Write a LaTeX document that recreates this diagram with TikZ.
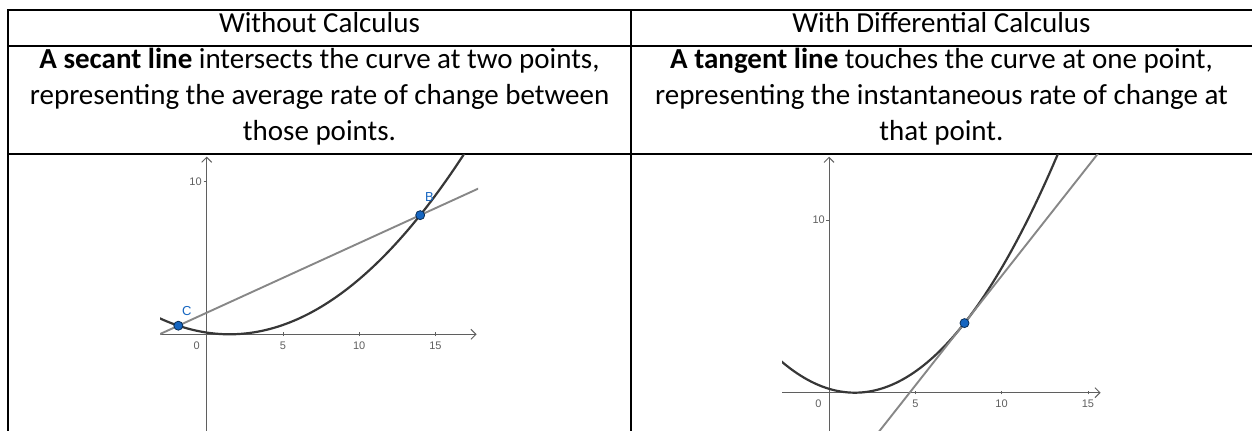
\documentclass[tikz,border=0pt]{standalone}
\usepackage{fontspec}
\setmainfont{Carlito}
\newfontfamily\ggbfont{Liberation Sans}
\usepackage{tikz}
\usetikzlibrary{arrows.meta,calc}
\usepackage{xcolor}
\definecolor{ggbblue}{RGB}{21,101,192}
\definecolor{ggbaxis}{RGB}{95,95,95}
\definecolor{ggbcurve}{RGB}{55,55,55}
\definecolor{ggbline}{RGB}{135,135,135}
\tikzset{
    cell/.style={font=\fontsize{14.5pt}{18pt}\selectfont, anchor=base, inner sep=0pt},
    tableline/.style={line width=1pt, black},
    axis/.style={line width=0.5pt, ggbaxis, -{Straight Barb[length=2.5pt,width=5pt]}},
    tick/.style={line width=0.4pt, ggbaxis},
    ticklabel/.style={font=\ggbfont\fontsize{5.5pt}{6pt}\selectfont, text=ggbaxis, inner sep=0pt},
    curve/.style={line width=1.1pt, ggbcurve},
    secant/.style={line width=0.95pt, ggbline},
    ggbpoint/.style={circle, fill=ggbblue, draw=ggbblue!45!black, line width=0.4pt, minimum size=4.5pt, inner sep=0pt},
    ptlabel/.style={font=\ggbfont\fontsize{6.5pt}{7pt}\selectfont, text=ggbblue, inner sep=0pt},
}

\begin{document}
\begin{tikzpicture}[x=0.5pt,y=-0.5pt]
    \useasboundingbox (0,0) rectangle (1252,431);

    % Table rules
    \draw[tableline] (8,431) -- (8,10) -- (1252,10);
    \draw[tableline] (8,46) -- (1252,46);
    \draw[tableline] (8,154) -- (1252,154);
    \draw[tableline] (631,10) -- (631,431);

    % Headers
    \node[cell] (headL) at (319.5,33) {Without Calculus};
    \node[cell] (headR) at (941.5,33) {With Differential Calculus};

    % Descriptions
    \node[cell] (descL1) at (319.5,69) {\textbf{A secant line} intersects the curve at two points,};
    \node[cell] (descL2) at (319.5,105) {representing the average rate of change between};
    \node[cell] (descL3) at (319.5,141) {those points.};
    \node[cell] (descR1) at (941.5,69) {\textbf{A tangent line} touches the curve at one point,};
    \node[cell] (descR2) at (941.5,105) {representing the instantaneous rate of change at};
    \node[cell] (descR3) at (941.5,141) {that point.};

    % Secant graph
    \begin{scope}
        \clip (160,155) rectangle (478,431);
        \begin{scope}[shift={(206.7,334.3)}, x=7.625pt, y=7.625pt]
            \draw[axis] (-3.2,0) -- (17.7,0);
            \draw[axis] (0,-6.5) -- (0,11.65);
            \foreach \t in {5,10,15} {
                \draw[tick] (\t,-0.12) -- (\t,0.12);
                \node[ticklabel] at (\t,-0.75) {\t};
            }
            \draw[tick] (-0.2,10) -- (0,10);
            \node[ticklabel, anchor=east] at (-0.3,10) {10};
            \node[ticklabel] at (-0.66,-0.75) {0};

            \draw[curve, domain=-3.3:17, samples=80] plot (\x, {0.05*(\x-1.5)^2});
            \coordinate (C) at (-1.86,0.5645);
            \coordinate (B) at (14,7.8125);
            \draw[secant] ($(C)!-0.1!(B)$) -- ($(C)!1.3!(B)$);
            \node[ggbpoint] (ptC) at (C) {};
            \node[ggbpoint] (ptB) at (B) {};
            \node[ptlabel] at (-1.31,1.5) {C};
            \node[ptlabel] at (14.6,9.0) {B};
        \end{scope}
    \end{scope}

    % Tangent graph
    \begin{scope}
        \clip (782,155) rectangle (1101,431);
        \begin{scope}[shift={(829,392.7)}, x=8.63pt, y=8.63pt]
            \draw[axis] (-2.8,0) -- (15.74,0);
            \draw[axis] (0,-2.4) -- (0,13.67);
            \foreach \t in {5,10,15} {
                \draw[tick] (\t,-0.1) -- (\t,0.1);
                \node[ticklabel] at (\t,-0.62) {\t};
            }
            \draw[tick] (-0.18,10) -- (0,10);
            \node[ticklabel, anchor=east] at (-0.22,10) {10};
            \node[ticklabel] at (-0.62,-0.62) {0};

            \draw[curve, domain=-2.9:13.6, samples=80] plot (\x, {0.1*(\x-1.5)^2});
            \coordinate (P) at (7.85,4.032);
            \draw[secant] ($(P)+(-5.35,-6.79)$) -- ($(P)+(8.15,10.35)$);
            \node[ggbpoint] (ptP) at (P) {};
        \end{scope}
    \end{scope}
\end{tikzpicture}
\end{document}
